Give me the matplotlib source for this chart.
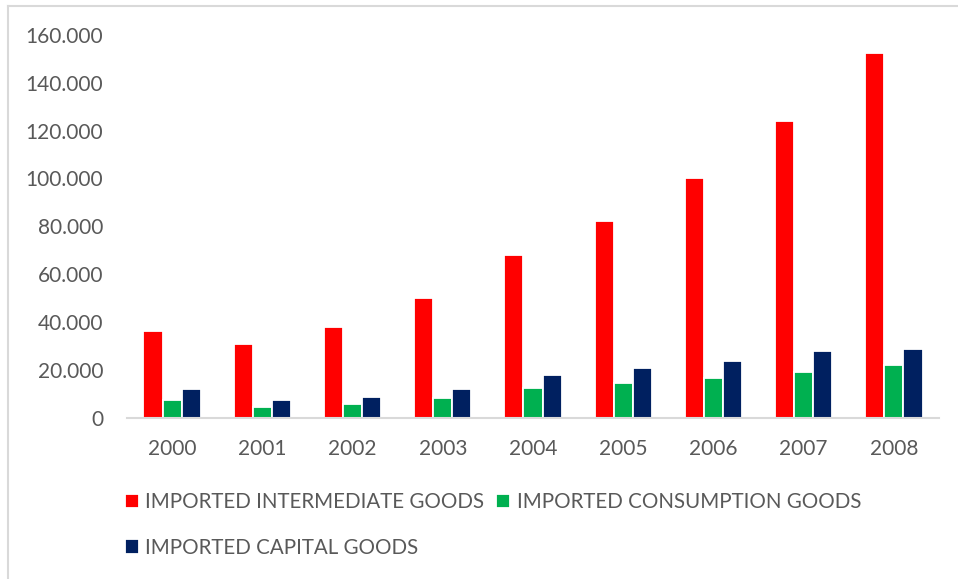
import matplotlib
matplotlib.use("Agg")
import matplotlib.pyplot as plt
from matplotlib.ticker import FuncFormatter, MultipleLocator
from matplotlib.lines import Line2D
import numpy as np

years = ["2000", "2001", "2002", "2003", "2004", "2005", "2006", "2007", "2008"]
intermediate = [36300, 30900, 37900, 50000, 67800, 82000, 100000, 124000, 152300]
consumption = [7500, 4500, 5600, 8100, 12400, 14500, 16600, 19100, 22100]
capital = [12000, 7500, 8600, 11800, 17600, 20800, 23700, 27700, 28500]
series_names = ["IMPORTED INTERMEDIATE GOODS", "IMPORTED CONSUMPTION GOODS", "IMPORTED CAPITAL GOODS"]
colors = ["#FF0000", "#00B050", "#002060"]

TEXT = "#595959"
plt.rcParams["font.family"] = ["Lato", "DejaVu Sans"]

W, H = 958, 579
fig = plt.figure(figsize=(W / 100, H / 100), dpi=100)
ax = fig.add_axes([127 / W, 1 - 417.5 / H, (939 - 127) / W, (417.5 - 35) / H])

x = np.arange(len(years))
slot = 0.212
handles = []
for k, (vals, name, col) in enumerate(zip([intermediate, consumption, capital], series_names, colors)):
    b = ax.bar(x + (k - 1) * slot, vals, width=slot, color=col, edgecolor="white",
               linewidth=1.3, label=name, zorder=2)
    handles.append(b)

ax.set_xlim(-0.5, len(years) - 0.5)
ax.set_ylim(0, 160000)
ax.yaxis.set_major_locator(MultipleLocator(20000))
ax.yaxis.set_major_formatter(FuncFormatter(lambda v, p: f"{v:,.0f}".replace(",", ".")))
ax.set_xticks(x)
ax.set_xticklabels(years)

for s in ["top", "right", "left"]:
    ax.spines[s].set_visible(False)
ax.spines["bottom"].set_color("#D9D9D9")
ax.spines["bottom"].set_linewidth(1.5)
ax.spines["bottom"].set_zorder(3)

ax.tick_params(axis="both", length=0, labelsize=15, colors=TEXT)
ax.tick_params(axis="y", pad=17)
ax.tick_params(axis="x", pad=15.5)

# legend: two entries on the first row, third entry on the second row
order = [0, 2, 1]
leg = fig.legend([handles[i] for i in order], [series_names[i] for i in order],
                 loc="upper left", bbox_to_anchor=(125 / W, 1 - 492 / H), ncol=2,
                 frameon=False, fontsize=14.8, handlelength=0.68, handleheight=0.68,
                 handletextpad=0.3, labelspacing=1.25, columnspacing=0.6,
                 borderpad=0, borderaxespad=0)
for t in leg.get_texts():
    t.set_color(TEXT)

# chart-area border (left and top edges)
fig.add_artist(Line2D([7.5 / W, 7.5 / W], [0, 1 - 5.5 / H], color="#D9D9D9", lw=1.5))
fig.add_artist(Line2D([7.5 / W, 1], [1 - 5.5 / H, 1 - 5.5 / H], color="#D9D9D9", lw=1.5))

fig.savefig("out.png", dpi=100, facecolor="white")
